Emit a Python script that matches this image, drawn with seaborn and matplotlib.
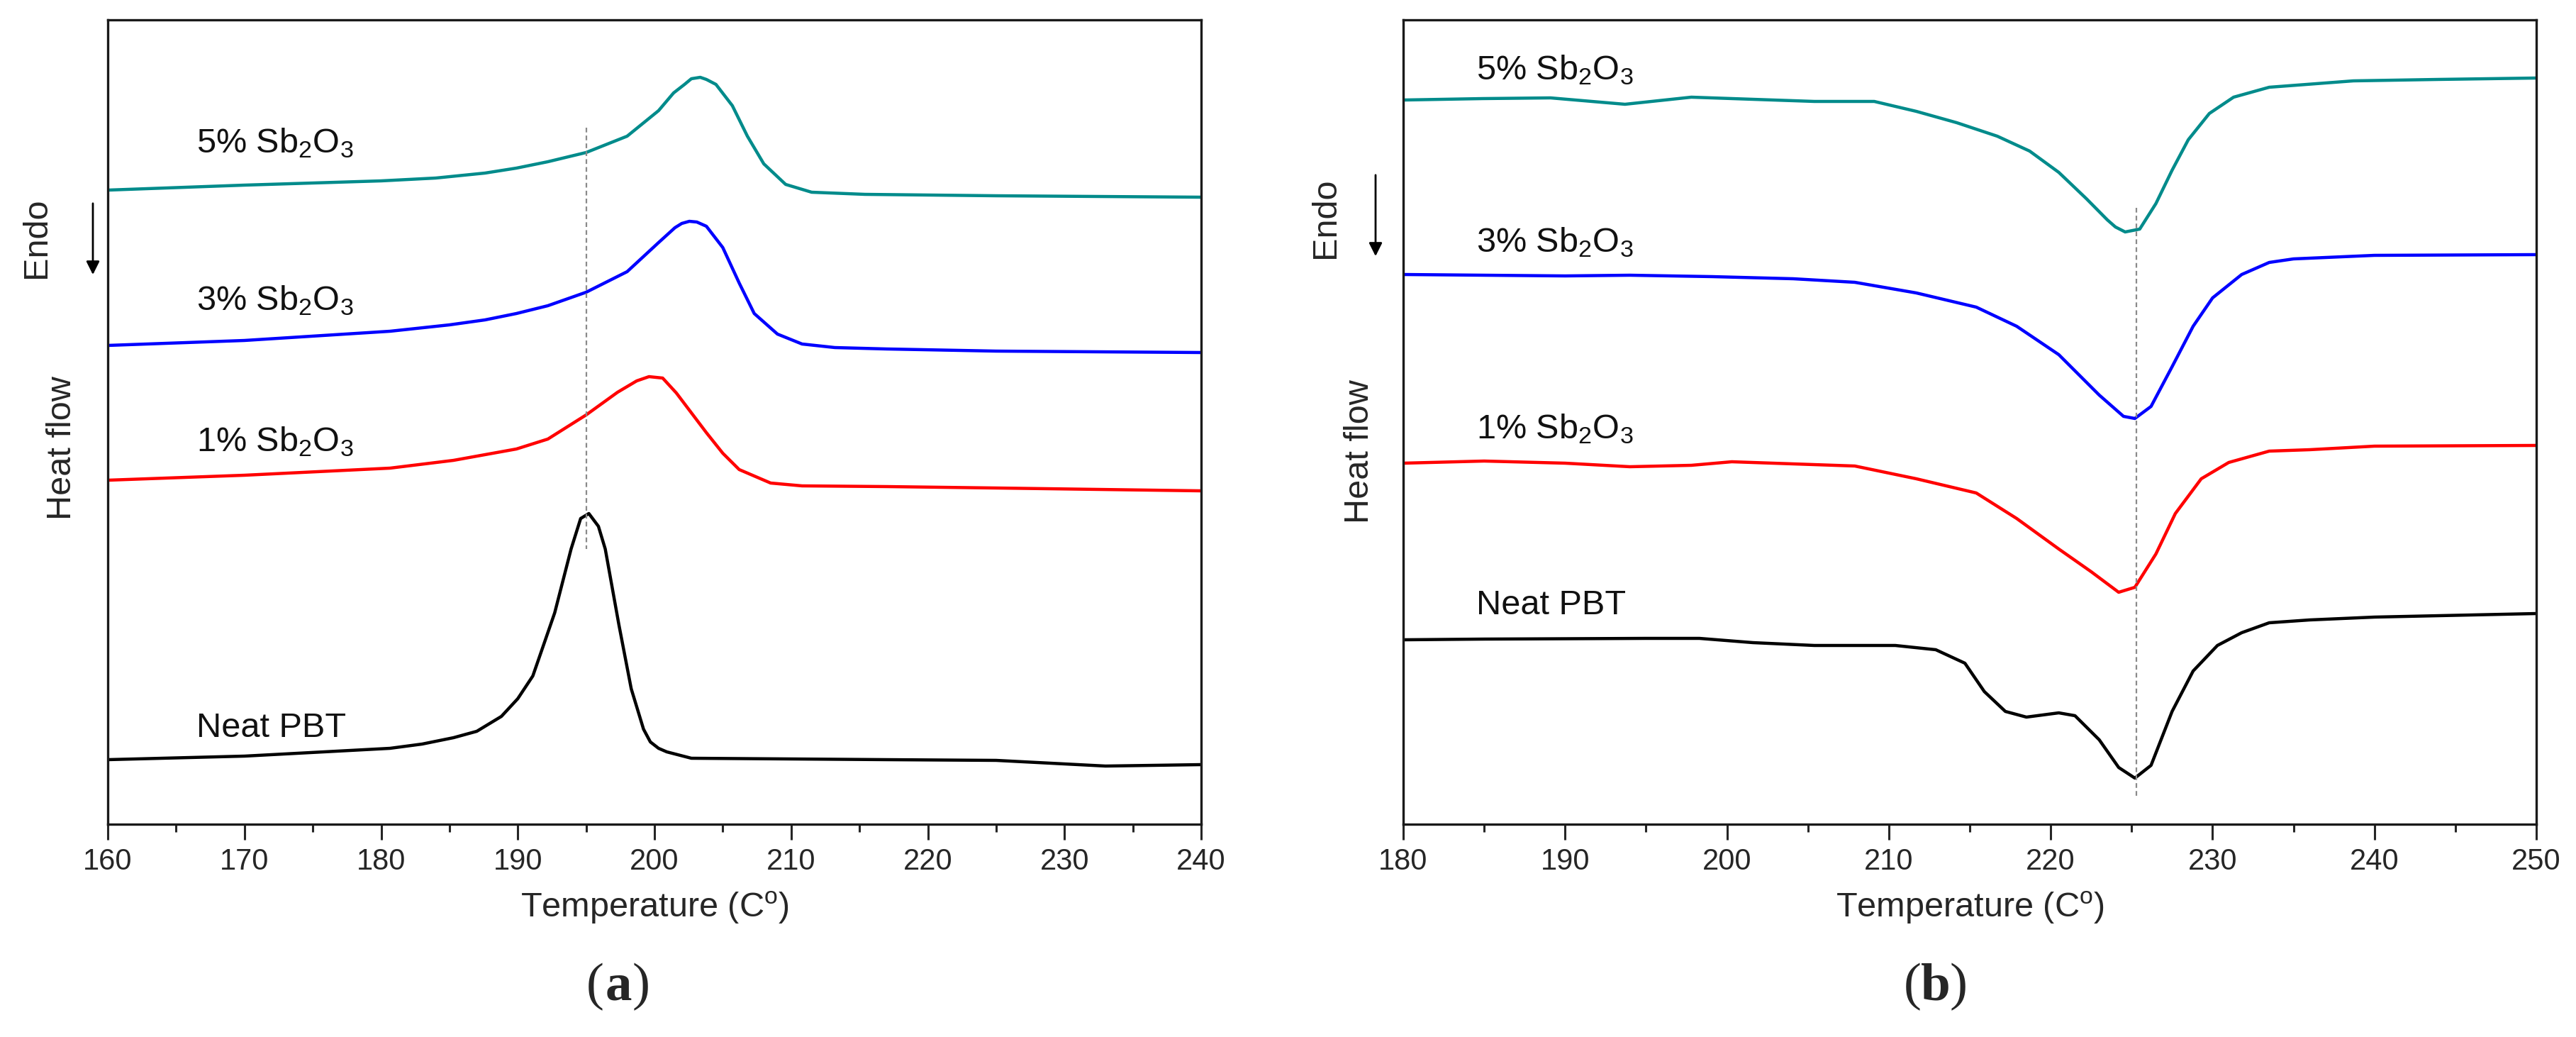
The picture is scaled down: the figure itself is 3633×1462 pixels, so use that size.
import matplotlib
matplotlib.use('Agg')
import matplotlib.pyplot as plt
import seaborn as sns

# ---- panel (a): temperature (C) and heat flow (a.u., curves offset) ----
a5_temp = [160, 170, 180, 184, 187.6, 189.9, 192.2, 195, 198, 200.3, 201.4, 202.2, 202.7, 203.35,
           203.8, 204.5, 205.7, 206.8, 208, 209.6, 211.5, 215.4, 225, 240]
a5_flow = [9.00, 9.07, 9.13, 9.17, 9.24, 9.31, 9.40, 9.53, 9.76, 10.12, 10.37, 10.49, 10.57, 10.59,
           10.56, 10.49, 10.19, 9.76, 9.37, 9.08, 8.97, 8.94, 8.92, 8.90]

a3_temp = [160, 170, 180.65, 185, 187.6, 189.9, 192.2, 195, 198, 200.3, 201.5, 202.0, 202.55, 203.1,
           203.8, 205, 206.2, 207.3, 209, 210.8, 213.2, 217, 225, 240]
a3_flow = [6.81, 6.88, 7.01, 7.10, 7.17, 7.26, 7.37, 7.56, 7.85, 8.26, 8.47, 8.53, 8.56, 8.55,
           8.49, 8.19, 7.69, 7.26, 6.97, 6.83, 6.78, 6.76, 6.73, 6.71]

a1_temp = [160, 170, 180.65, 185.3, 189.9, 192.2, 195, 197.3, 198.7, 199.6, 200.6, 201.6, 203.8,
           205, 206.2, 208.5, 210.8, 217, 225, 240]
a1_flow = [4.91, 4.98, 5.08, 5.19, 5.35, 5.49, 5.83, 6.15, 6.31, 6.37, 6.35, 6.14, 5.58,
           5.29, 5.06, 4.87, 4.83, 4.82, 4.80, 4.76]

a0_temp = [160, 170, 180.65, 183, 185.3, 187.0, 188.8, 190.0, 191.1, 192.0, 192.7, 193.9, 194.6,
           195.2, 195.9, 196.4, 197.4, 197.9, 198.3, 199.2, 199.7, 200.3, 200.9, 202.7, 210, 217,
           225, 233, 240]
a0_flow = [0.97, 1.02, 1.13, 1.19, 1.28, 1.37, 1.58, 1.83, 2.15, 2.65, 3.04, 3.94, 4.37,
           4.44, 4.26, 3.94, 2.87, 2.37, 1.97, 1.40, 1.22, 1.13, 1.08, 0.99, 0.98, 0.97,
           0.96, 0.88, 0.90]

# ---- panel (b) ----
b5_temp = [180, 184.9, 189.1, 193.7, 197.8, 201.6, 205.4, 209.1, 211.7, 214.2, 216.7, 218.7, 220.5,
           222.2, 223.5, 224.0, 224.6, 225.5, 226.5, 227.5, 228.5, 229.8, 231.3, 233.5, 238.7, 243.9, 250]
b5_flow = [10.27, 10.29, 10.30, 10.21, 10.31, 10.28, 10.25, 10.25, 10.11, 9.95, 9.76, 9.55, 9.25,
           8.88, 8.58, 8.48, 8.41, 8.45, 8.81, 9.28, 9.71, 10.08, 10.31, 10.45, 10.54, 10.56, 10.58]

b3_temp = [180, 190, 194, 199.1, 204.1, 207.9, 211.7, 215.4, 217.9, 220.5, 223.0, 224.5, 225.2,
           226.2, 227.5, 228.8, 230.0, 231.8, 233.5, 235, 240, 250]
b3_flow = [7.81, 7.79, 7.80, 7.78, 7.75, 7.70, 7.55, 7.35, 7.08, 6.68, 6.11, 5.81, 5.78,
           5.95, 6.51, 7.08, 7.48, 7.81, 7.98, 8.03, 8.08, 8.09]

b1_temp = [180, 185, 190, 194, 197.8, 200.3, 204.1, 207.9, 211.7, 215.4, 217.9, 220.5, 222.5, 224.2,
           225.2, 226.5, 227.7, 229.3, 231.0, 233.5, 236, 240, 250]
b1_flow = [5.15, 5.18, 5.15, 5.10, 5.12, 5.17, 5.14, 5.11, 4.93, 4.73, 4.37, 3.94, 3.62, 3.33,
           3.40, 3.87, 4.44, 4.93, 5.16, 5.32, 5.34, 5.39, 5.40]

b0_temp = [180, 185, 195, 198.3, 201.6, 205.4, 210.4, 212.9, 214.7, 215.9, 217.2, 218.5, 220.5, 221.5,
           223.0, 224.2, 225.2, 226.2, 227.5, 228.8, 230.3, 231.8, 233.5, 236, 240, 250]
b0_flow = [2.66, 2.67, 2.68, 2.68, 2.62, 2.58, 2.58, 2.52, 2.33, 1.93, 1.65, 1.57, 1.63, 1.59,
           1.25, 0.86, 0.71, 0.89, 1.65, 2.22, 2.58, 2.76, 2.90, 2.94, 2.98, 3.03]

series_labels = ['5% Sb$_2$O$_3$', '3% Sb$_2$O$_3$', '1% Sb$_2$O$_3$', 'Neat PBT']
series_colors = ['#008B8B', '#0000FF', '#FF0000', '#000000']

# label anchors (temperature, text baseline in heat-flow units)
a_label_temp = 166.5
a_label_flow = [9.53, 7.31, 5.32, 1.29]
b_label_temp = 184.5
b_label_flow = [10.56, 8.13, 5.50, 3.02]

# dotted guide line: temperature, from, to
a_guide = (195.0, 9.88, 3.94)
b_guide = (225.3, 8.75, 0.46)

sns.set_style('ticks')
plt.rcParams['font.family'] = ['Liberation Sans', 'DejaVu Sans']
plt.rcParams['mathtext.default'] = 'regular'

W, H = 3633, 1462
fig = plt.figure(figsize=(W / 100, H / 100), dpi=100)

ax_a = fig.add_axes([152 / W, 1 - 1162 / H, (1694 - 152) / W, (1162 - 28) / H])
ax_b = fig.add_axes([1979 / W, 1 - 1162 / H, (3577 - 1979) / W, (1162 - 28) / H])

panels = [
    (ax_a, [(a5_temp, a5_flow), (a3_temp, a3_flow), (a1_temp, a1_flow), (a0_temp, a0_flow)],
     (160, 240), range(160, 241, 10), a_label_temp, a_label_flow, a_guide),
    (ax_b, [(b5_temp, b5_flow), (b3_temp, b3_flow), (b1_temp, b1_flow), (b0_temp, b0_flow)],
     (180, 250), range(180, 251, 10), b_label_temp, b_label_flow, b_guide),
]

for ax, curves, xlim, xticks, lab_t, lab_f, guide in panels:
    for (t, f), col in zip(curves, series_colors):
        sns.lineplot(x=t, y=f, ax=ax, color=col, lw=3.2, estimator=None, sort=False)
    ax.plot([guide[0], guide[0]], [guide[1], guide[2]], color='#8a8a8a', lw=1.6,
            dashes=(3, 2))
    for txt, yv in zip(series_labels, lab_f):
        ax.text(lab_t, yv, txt, fontsize=35, va='baseline', ha='left', color='#111111')

    ax.set_xlim(*xlim)
    ax.set_ylim(0.06, 11.40)
    ax.set_xticks(list(xticks))
    ax.set_xticks([v + 5 for v in list(xticks)[:-1]], minor=True)
    ax.set_yticks([])
    ax.tick_params(axis='x', which='major', direction='out', length=16, width=2.2,
                   labelsize=30, pad=8, top=False)
    ax.tick_params(axis='x', which='minor', direction='out', length=8, width=2.2, top=False)
    for sp in ax.spines.values():
        sp.set_visible(True)
        sp.set_linewidth(2.4)
        sp.set_color('#1a1a1a')

    ax.set_xlabel('Temperature (C$^{o}$)', fontsize=35)
    ax.xaxis.set_label_coords(0.5, -0.104)
    ax.xaxis.label.set_va('center')

    ax.set_ylabel('Heat flow', fontsize=35)
    ax.yaxis.label.set_va('center')

# y-label positions, "Endo" and arrow, panel tags (figure pixels measured on the reference)
ax_a.yaxis.set_label_coords((88 - 152) / 1542, (1162 - 632) / 1134)
ax_b.yaxis.set_label_coords((1917 - 1979) / 1598, (1162 - 637) / 1134)

for x_txt, y_txt, x_arr, y0, y1 in [(52, 335, 131, 284, 390), (1870, 307, 1940, 244, 364)]:
    fig.text(x_txt / W, 1 - y_txt / H, 'Endo', fontsize=35, rotation=90,
             ha='center', va='center')
    fig.add_artist(matplotlib.patches.FancyArrowPatch(
        (x_arr / W, 1 - y0 / H), (x_arr / W, 1 - y1 / H), transform=fig.transFigure,
        arrowstyle='-|>', mutation_scale=28, lw=2, color='black'))

for xc, letter in [(872, 'a'), (2730, 'b')]:
    yc = 1 - 1391 / H
    fig.text(xc / W, yc, letter, fontsize=54, fontweight='bold',
             family='Liberation Serif', ha='center', va='center')
    fig.text((xc - 20) / W, yc, '(', fontsize=54, family='Liberation Serif',
             ha='right', va='center')
    fig.text((xc + 20) / W, yc, ')', fontsize=54, family='Liberation Serif',
             ha='left', va='center')

fig.savefig('out.png', dpi=100)
